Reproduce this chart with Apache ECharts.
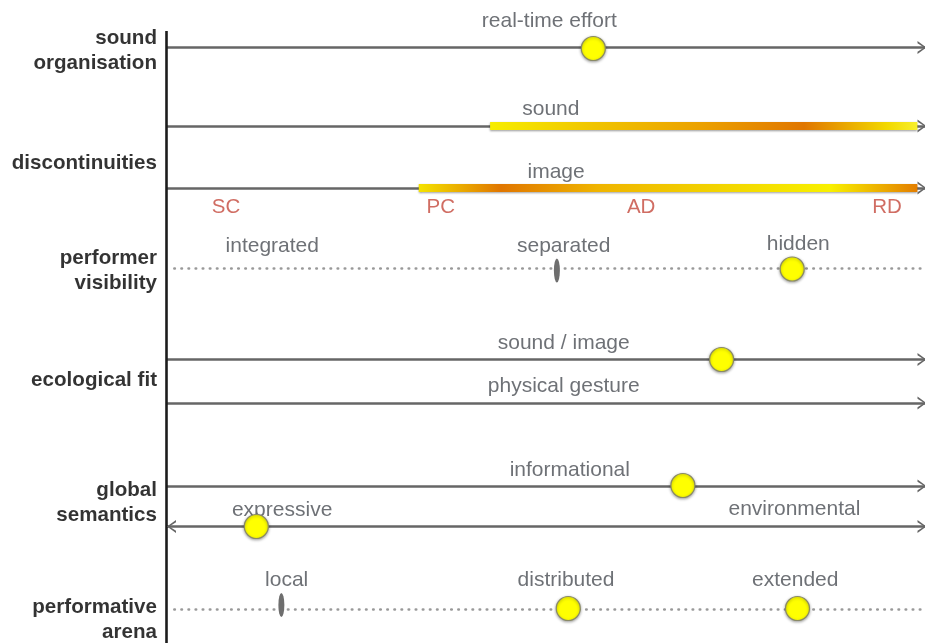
<!DOCTYPE html>
<html><head><meta charset="utf-8">
<script src="https://cdn.jsdelivr.net/npm/echarts@6/dist/echarts.min.js"></script>
<style>html,body{margin:0;padding:0;background:#fff}#c{width:925px;height:643px}</style>
</head><body><div id="c"></div>
<script>
// ---------- data (x: position along the continuum 0..100, y: row level) ----------
const rowHeaders = ['sound\norganisation', 'discontinuities', 'performer\nvisibility', 'ecological fit', 'global\nsemantics', 'performative\narena'];
const rowHeaderLevels = [50.5, 163, 270.5, 380, 503, 619.5];

const solidLineLevels = [47.5, 126, 188, 359.5, 403, 486, 526.5];
const rightArrowLevels = [47.5, 126, 188, 359.5, 403, 486, 526.5];
const leftArrowLevels = [526.5];
const dottedLineLevels = [268, 609];

const bandNames = ['sound', 'image'];
const bandLevels = [126, 188];
const bandStart = [42.7, 33.3];
const bandEnd = [99.0, 99.0];

const axisLabels = ['real-time effort', 'sound', 'image', 'integrated', 'separated', 'hidden', 'sound / image', 'physical gesture', 'informational', 'expressive', 'environmental', 'local', 'distributed', 'extended'];
const axisLabelX = [50.5, 50.7, 51.4, 14.0, 52.4, 83.3, 52.4, 52.4, 53.2, 15.3, 82.8, 15.9, 52.7, 82.9];
const axisLabelLevels = [21, 109, 172, 246, 246, 244, 343, 386, 470, 510, 509, 580, 580, 580];

const scaleLabels = ['SC', 'PC', 'AD', 'RD'];
const scaleLabelX = [7.9, 36.2, 62.6, 95.0];
const scaleLabelLevel = 207;

const markerX = [56.3, 82.5, 73.2, 68.1, 11.9, 53.0, 83.2];
const markerLevels = [48.5, 269, 359.5, 485.5, 526.5, 608.5, 608.5];

const tickX = [51.5, 15.2];
const tickLevels = [270.5, 605];

const axisTop = 31;

// ---------- chart ----------
const chart = echarts.init(document.getElementById('c'), null, { renderer: 'canvas' });
const grey = '#666666';
const labelGrey = '#4a4e54';
const font = 'Liberation Sans, Arial, Helvetica, sans-serif';

const bandStops = {
  sound: [
    [0, '#f7ef00'], [0.25, '#f0c400'], [0.5, '#eba000'], [0.73, '#e07600'], [0.92, '#f2d800'], [1, '#f8f230']
  ],
  image: [
    [0, '#f5e800'], [0.17, '#e07600'], [0.36, '#efb400'], [0.6, '#f2d400'], [0.82, '#f8f000'], [1, '#e27800']
  ]
};

const rightArrowPath = 'path://M0,0 L10,6 L0,12 L0,10 L7.4,6 L0,2 Z';
const leftArrowPath = 'path://M10,0 L0,6 L10,12 L10,10 L2.6,6 L10,2 Z';

const option = {
  animation: false,
  backgroundColor: '#ffffff',
  grid: { left: 166, right: 0, top: 0, bottom: 0, containLabel: false },
  xAxis: { type: 'value', min: 0, max: 100, show: false },
  yAxis: { type: 'value', min: 0, max: 643, inverse: true, show: false },
  series: [
    {
      name: 'vertical axis', type: 'lines', coordinateSystem: 'cartesian2d', silent: true, z: 4,
      lineStyle: { color: '#1c1c1c', width: 2.6, opacity: 1, curveness: 0 },
      data: [{ coords: [[0, axisTop], [0, 643]] }]
    },
    {
      name: 'axes', type: 'lines', coordinateSystem: 'cartesian2d', silent: true, z: 2,
      lineStyle: { color: grey, width: 2.6, opacity: 1, curveness: 0 },
      data: solidLineLevels.map(l => ({ coords: [[0, l], [100, l]] }))
    },
    {
      name: 'dotted axes', type: 'lines', coordinateSystem: 'cartesian2d', silent: true, z: 2,
      lineStyle: { color: '#999999', width: 2.6, opacity: 1, curveness: 0, type: [0.5, 6.6], cap: 'round' },
      data: dottedLineLevels.map(l => ({ coords: [[1.1, l], [100, l]] }))
    },
    {
      name: 'bands', type: 'lines', coordinateSystem: 'cartesian2d', silent: true, z: 3,
      lineStyle: { width: 8, opacity: 1, curveness: 0, shadowBlur: 2, shadowColor: 'rgba(0,0,0,0.4)', shadowOffsetY: 0.5 },
      data: bandNames.map((n, i) => ({
        name: n,
        coords: [[bandStart[i], bandLevels[i]], [bandEnd[i], bandLevels[i]]],
        lineStyle: {
          color: new echarts.graphic.LinearGradient(0, 0, 1, 0,
            bandStops[n].map(s => ({ offset: s[0], color: s[1] })))
        }
      }))
    },
    {
      name: 'right arrows', type: 'scatter', silent: true, z: 4, clip: false,
      symbol: rightArrowPath, symbolSize: [9, 13], symbolOffset: [-3, 0],
      itemStyle: { color: grey, opacity: 1 },
      data: rightArrowLevels.map(l => [100, l])
    },
    {
      name: 'left arrows', type: 'scatter', silent: true, z: 4, clip: false,
      symbol: leftArrowPath, symbolSize: [9, 13], symbolOffset: [5.5, 0],
      itemStyle: { color: grey, opacity: 1 },
      data: leftArrowLevels.map(l => [0, l])
    },
    {
      name: 'ticks', type: 'scatter', silent: true, z: 5, clip: false,
      symbol: 'circle', symbolSize: [6, 24],
      itemStyle: { color: '#6e6e6e', opacity: 1 },
      data: tickX.map((x, i) => [x, tickLevels[i]])
    },
    {
      name: 'positions', type: 'scatter', silent: true, z: 8, clip: false,
      symbol: 'circle', symbolSize: 24,
      itemStyle: {
        color: '#ffff00', borderColor: '#8a8a66', borderWidth: 1.2, opacity: 1,
        shadowBlur: 3, shadowColor: 'rgba(0,0,0,0.35)', shadowOffsetY: 1
      },
      data: markerX.map((x, i) => [x, markerLevels[i]])
    },
    {
      name: 'axis labels', type: 'scatter', silent: true, z: 7, clip: false,
      symbolSize: 0,
      label: {
        show: true, position: 'inside', formatter: '{b}',
        color: labelGrey, fontSize: 21, fontFamily: font
      },
      data: axisLabels.map((t, i) => ({ name: t, value: [axisLabelX[i], axisLabelLevels[i]] }))
    },
    {
      name: 'scale labels', type: 'scatter', silent: true, z: 7, clip: false,
      symbolSize: 0,
      label: {
        show: true, position: 'inside', formatter: '{b}',
        color: '#c4493c', fontSize: 20.5, fontFamily: font
      },
      data: scaleLabels.map((t, i) => ({ name: t, value: [scaleLabelX[i], scaleLabelLevel] }))
    },
    {
      name: 'row headers', type: 'scatter', silent: true, z: 7, clip: false,
      symbolSize: 0,
      label: {
        show: true, position: 'left', distance: 9, formatter: '{b}', align: 'right',
        color: '#000000', fontSize: 20.6, fontWeight: 'bold', lineHeight: 25,
        fontFamily: font
      },
      data: rowHeaders.map((t, i) => ({ name: t, value: [0, rowHeaderLevels[i]] }))
    }
  ]
};
chart.setOption(option);
</script>
</body></html>
